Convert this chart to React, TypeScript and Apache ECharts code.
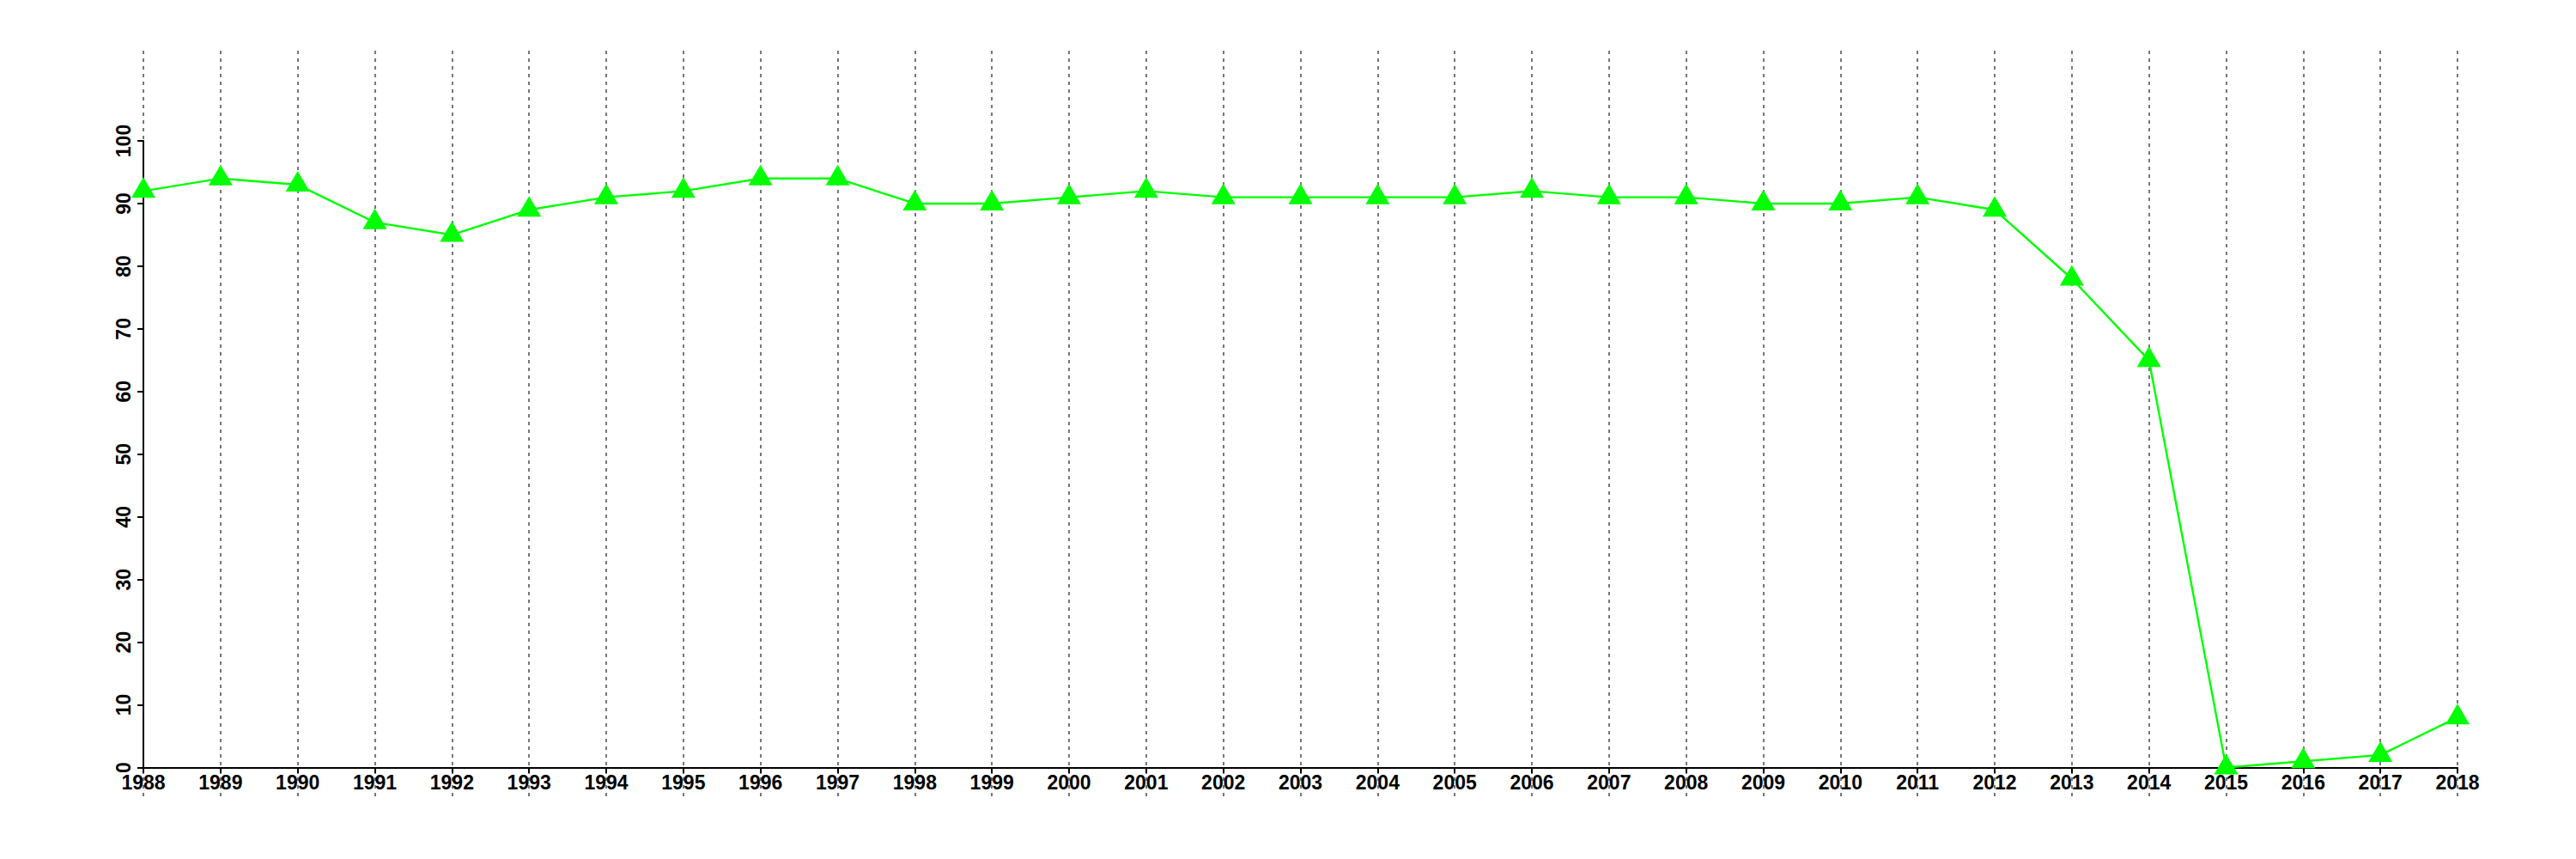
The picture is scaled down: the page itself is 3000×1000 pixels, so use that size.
import React, { useEffect, useRef } from "react";
import * as echarts from "echarts";

const years: string[] = [
  "1988", "1989", "1990", "1991", "1992", "1993", "1994", "1995", "1996", "1997",
  "1998", "1999", "2000", "2001", "2002", "2003", "2004", "2005", "2006", "2007",
  "2008", "2009", "2010", "2011", "2012", "2013", "2014", "2015", "2016", "2017", "2018",
];

const values: number[] = [
  92, 94, 93, 87, 85, 89, 91, 92, 94, 94,
  90, 90, 91, 92, 91, 91, 91, 91, 92, 91,
  91, 90, 90, 91, 89, 78, 65, 0, 1, 2, 8,
];

const yMin = 0;
const yMax = 100;
const yInterval = 10;

const FONT = "'Liberation Sans', Arial, Helvetica, sans-serif";

export default function App() {
  const ref = useRef<HTMLDivElement>(null);

  useEffect(() => {
    if (!ref.current) return;
    const chart = echarts.init(ref.current, null, { renderer: "svg" });
    const pxPerUnit = (893.5 - 164) / (yMax - yMin);
    const dataMax = yMax + (164 - 59) / pxPerUnit;
    const dataMin = yMin - (927 - 893.5) / pxPerUnit;

    chart.setOption({
      animation: false,
      backgroundColor: "#ffffff",
      grid: [
        { left: 167, right: 138, top: 59, bottom: 73 },
        { left: 167, right: 138, top: 164, bottom: 106.5 },
      ],
      xAxis: [
        {
          type: "category",
          gridIndex: 0,
          data: years,
          boundaryGap: false,
          axisLine: { show: false },
          axisTick: { show: false },
          axisLabel: { show: false },
          splitLine: {
            show: true,
            lineStyle: { color: "#777777", width: 2, type: [4, 5] },
          },
        },
        {
          type: "category",
          gridIndex: 1,
          data: years,
          boundaryGap: false,
          axisLine: { show: true, lineStyle: { color: "#000000", width: 2 } },
          axisTick: {
            show: true,
            length: 7,
            inside: false,
            alignWithLabel: true,
            lineStyle: { color: "#000000", width: 2 },
          },
          axisLabel: {
            show: true,
            interval: 0,
            color: "#000000",
            fontSize: 23,
            fontWeight: "bold",
            fontFamily: FONT,
            margin: 6,
          },
          splitLine: { show: false },
        },
      ],
      yAxis: [
        {
          type: "value",
          gridIndex: 0,
          min: dataMin,
          max: dataMax,
          show: false,
          splitLine: { show: false },
        },
        {
          type: "value",
          gridIndex: 1,
          min: yMin,
          max: yMax,
          interval: yInterval,
          axisLine: { show: true, lineStyle: { color: "#000000", width: 2 } },
          axisTick: {
            show: true,
            length: 7,
            lineStyle: { color: "#000000", width: 2 },
          },
          axisLabel: {
            show: true,
            rotate: 90,
            color: "#000000",
            fontSize: 23,
            fontWeight: "bold",
            fontFamily: FONT,
            margin: 12,
          },
          splitLine: { show: false },
        },
      ],
      series: [
        {
          type: "line",
          xAxisIndex: 0,
          yAxisIndex: 0,
          data: values,
          symbol: "triangle",
          symbolSize: [28, 24],
          symbolOffset: [0, -4],
          showAllSymbol: true,
          itemStyle: { color: "#00ff00" },
          lineStyle: { color: "#00ff00", width: 2.4 },
          z: 3,
        },
      ],
    });

    return () => chart.dispose();
  }, []);

  return (
    <div
      ref={ref}
      style={{
        position: "fixed",
        left: 0,
        top: 0,
        width: 3000,
        height: 1000,
        background: "#ffffff",
      }}
    />
  );
}
